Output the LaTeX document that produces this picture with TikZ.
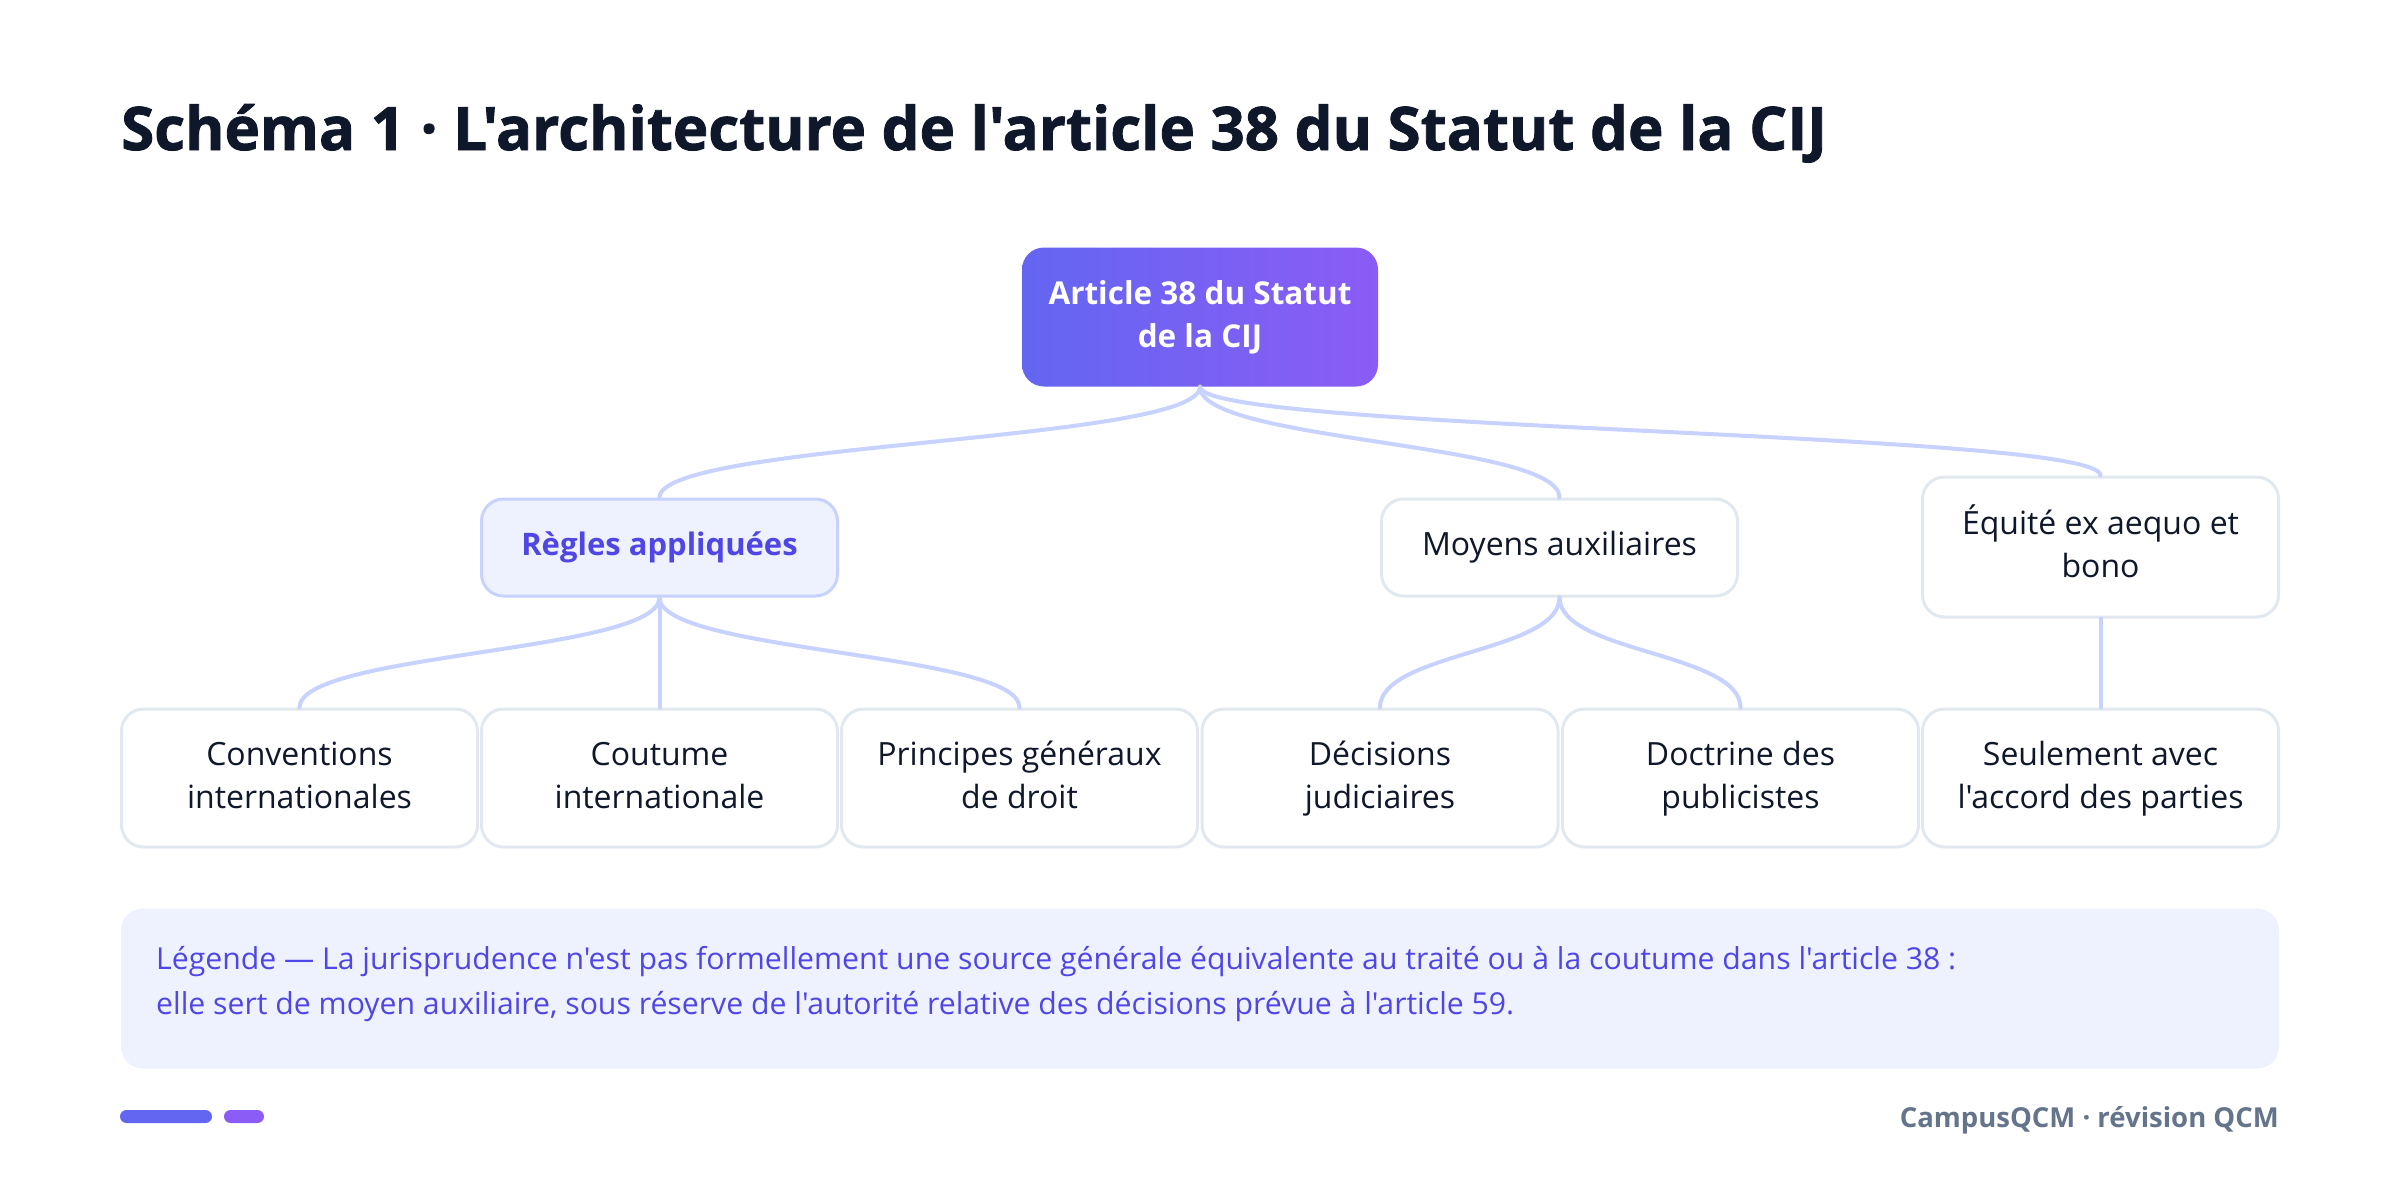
\documentclass[tikz,border=0pt]{standalone}
\usepackage{fontspec}
\setmainfont{Open Sans}[Ligatures=TeXOff]
\newfontfamily\titlefont{Open Sans}[Ligatures=TeXOff, BoldFeatures={FakeBold=1.4}]
\usetikzlibrary{calc}
\definecolor{ink}{HTML}{0F172A}
\definecolor{indigoA}{HTML}{6366F1}
\definecolor{violetA}{HTML}{8B5CF6}
\definecolor{edgec}{HTML}{C7D2FE}
\definecolor{boxline}{HTML}{E2E8F0}
\definecolor{softfill}{HTML}{EEF2FF}
\definecolor{legtext}{HTML}{4F46E5}
\definecolor{foot}{HTML}{64748B}
\newcommand\linkto[2]{\draw[edge] let \p1=(#1.south), \p2=(#2.north), \n1={0.5*(\y1+\y2)} in (\p1) .. controls (\x1,\n1) and (\x2,\n1) .. (\p2);}
\newcommand\twolines[2]{\strut #1\\\strut #2}
\begin{document}
\begin{tikzpicture}[x=1pt,y=1pt,
  card/.style={draw=boxline, line width=3pt, rounded corners=22pt, fill=white,
    minimum width=356pt, minimum height=138pt, inner sep=0pt, align=center,
    text=ink, font=\fontsize{32}{43}\selectfont},
  rootbox/.style={rounded corners=22pt, left color=indigoA, right color=violetA,
    minimum width=356pt, minimum height=139pt, inner sep=0pt, align=center,
    text=white, font=\fontsize{31.5}{43}\selectfont\bfseries},
  midbox/.style={card, minimum height=97pt},
  hibox/.style={midbox, draw=edgec, fill=softfill, text=legtext, font=\fontsize{31}{43}\selectfont\bfseries},
  edge/.style={draw=edgec, line width=4pt, line cap=round},
  legline/.style={anchor=base west, inner sep=0pt, text=legtext, font=\fontsize{30.2}{45}\selectfont}
]
\useasboundingbox (0,0) rectangle (2400,-1178);
\fill[white] (0,0) rectangle (2400,-1178);

\node[anchor=base west, inner sep=0pt, text=ink, font=\titlefont\fontsize{60}{70}\selectfont\bfseries] (title) at (121,-150) {Schéma 1 · L'architecture de l'article 38 du Statut de la CIJ};

\node[rootbox] (root) at (1200,-317) {\twolines{Article 38 du Statut}{de la CIJ}};

\node[hibox] (regles) at (659.5,-547.5) {Règles appliquées};
\node[midbox] (moyens) at (1559.5,-547.5) {Moyens auxiliaires};
\node[card, minimum height=140pt] (equite) at (2100.5,-547) {\twolines{Équité ex aequo et}{bono}};

\node[card] (conv) at (299.5,-778) {\twolines{Conventions}{internationales}};
\node[card] (cout) at (659.5,-778) {\twolines{Coutume}{internationale}};
\node[card] (princ) at (1019.5,-778) {\twolines{Principes généraux}{de droit}};
\node[card] (dec) at (1380,-778) {\twolines{Décisions}{judiciaires}};
\node[card] (doct) at (1740.5,-778) {\twolines{Doctrine des}{publicistes}};
\node[card] (seul) at (2100.5,-778) {\twolines{Seulement avec}{l'accord des parties}};

\linkto{root}{regles}
\linkto{root}{moyens}
\linkto{root}{equite}
\linkto{regles}{conv}
\linkto{regles}{cout}
\linkto{regles}{princ}
\linkto{moyens}{dec}
\linkto{moyens}{doct}
\linkto{equite}{seul}

\node[fill=softfill, rounded corners=22pt, minimum width=2158pt, minimum height=160pt, inner sep=0pt] (legend) at (1200,-988.5) {};
\node[legline] (leg1) at (156,-969) {Légende — La jurisprudence n'est pas formellement une source générale équivalente au traité ou à la coutume dans l'article 38 :};
\node[legline] (leg2) at (156,-1014) {elle sert de moyen auxiliaire, sous réserve de l'autorité relative des décisions prévue à l'article 59.};

\node[fill=indigoA, rounded corners=6.5pt, minimum width=92pt, minimum height=13pt, inner sep=0pt] (bar1) at (166,-1116.5) {};
\node[fill=violetA, rounded corners=6.5pt, minimum width=40pt, minimum height=13pt, inner sep=0pt] (bar2) at (244,-1116.5) {};

\node[anchor=base east, inner sep=0pt, text=foot, font=\fontsize{27.5}{30}\selectfont\bfseries] (footer) at (2279,-1127) {CampusQCM · révision QCM};
\end{tikzpicture}
\end{document}
